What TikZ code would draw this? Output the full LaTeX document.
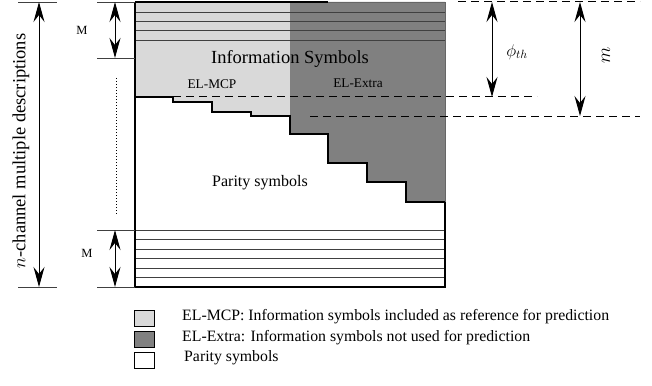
\documentclass[tikz,border=0pt]{standalone}
\usepackage{fix-cm}
\usepackage{fontspec}
\setmainfont{Liberation Serif}
\usetikzlibrary{arrows.meta,positioning,calc}
\definecolor{mcpcolor}{RGB}{217,217,217}
\definecolor{extracolor}{RGB}{128,128,128}
\def\tipspec{Stealth[length=20pt,width=11pt,inset=7pt]}
\tikzset{
  dimarrow/.style   = {{\tipspec}-{\tipspec}, line width=1pt},
  tickline/.style   = {line width=0.7pt, draw=black!75},
  rowline/.style    = {line width=0.8pt, draw=black!75},
  guideline/.style  = {dash pattern=on 8pt off 5pt, line width=1pt},
  stair/.style      = {line width=1.6pt},
  boxlabel/.style   = {font=\fontsize{18.5}{20}\selectfont, inner sep=0pt},
  paritylabel/.style= {font=\fontsize{16}{18}\selectfont, inner sep=0pt},
  smalllabel/.style = {font=\fontsize{13.3}{15}\selectfont, inner sep=0pt},
  mlabel/.style     = {font=\fontsize{12.5}{14}\selectfont, inner sep=0pt},
  legendbox/.style  = {draw, line width=0.8pt, minimum width=20pt,
                       minimum height=16pt, inner sep=0pt},
  legendtext/.style = {font=\fontsize{15.8}{18}\selectfont, anchor=west, inner sep=0pt}
}
\begin{document}
\begin{tikzpicture}[x=1pt,y=-1pt]
\useasboundingbox (0,0) rectangle (652,385);

% --- shaded regions of the block ---
\fill[mcpcolor] (135,2) -- (290,2) -- (290,116) -- (251,116) -- (251,112)
  -- (212,112) -- (212,102) -- (173,102) -- (173,97) -- (135,97) -- cycle;
\fill[extracolor] (290,2) -- (445,2) -- (445,202) -- (406,202) -- (406,182)
  -- (367,182) -- (367,163) -- (328,163) -- (328,134) -- (290,134) -- cycle;

% --- descriptions (rows) ---
\foreach \y in {12,21,30,40}{
  \draw[rowline] (135,\y) -- (445,\y);
}
\foreach \y in {230,239.5,249,258.5,268,277.5}{
  \draw[rowline] (135,\y) -- (445,\y);
}

% --- block outline ---
\draw[line width=0.8pt, draw=black!60] (328,2) -- (445,2) -- (445,202);
\draw[stair] (135,2) -- (328,2);
\draw[line width=1.2pt] (135,2) -- (135,287) -- (445,287) -- (445,202);

% --- boundary of the information symbols ---
\draw[stair] (135,97) -- (173,97) -- (173,102) -- (212,102) -- (212,112)
  -- (251,112) -- (251,116) -- (290,116) -- (290,134) -- (328,134)
  -- (328,163) -- (367,163) -- (367,182) -- (406,182) -- (406,202) -- (445,202);

% --- dashed guides ---
\coordinate (gtop0) at (458,2);   \coordinate (gtop1) at (640,2);
\coordinate (gphi0) at (173,97);  \coordinate (gphi1) at (537,97);
\coordinate (gm0)   at (310,116); \coordinate (gm1)   at (640,116);
\draw[guideline] (gtop0) -- (gtop1);
\draw[guideline] (gphi0) -- (gphi1);
\draw[guideline] (gm0) -- (gm1);

% --- phi_th and m ---
\coordinate (phitop) at (492,2);  \coordinate (phibot) at (492,97);
\coordinate (mtop)   at (580,2);  \coordinate (mbot)   at (580,116);
\draw[dimarrow] (phitop) -- (phibot);
\draw[dimarrow] (mtop) -- (mbot);
\node[font=\fontsize{17}{19}\selectfont] (phi) at (517,52) {$\phi_{th}$};
\node[rotate=90, font=\fontsize{19}{21}\selectfont] (mlab) at (606,55) {$m$};

% --- left side: n descriptions ---
\coordinate (ntop) at (39,2);  \coordinate (nbot) at (39,287);
\draw[tickline] (18,2) -- (57,2);
\draw[tickline] (18,287) -- (57,287);
\draw[dimarrow] (ntop) -- (nbot);
\node[rotate=90, font=\fontsize{18.5}{20}\selectfont, inner sep=0pt]
  (nlab) at (21,151) {$n$-channel multiple descriptions};

% --- M rows, top and bottom ---
\foreach \y in {2,58,230,287}{
  \draw[tickline] (97,\y) -- (135,\y);
}
\coordinate (mt0) at (115,2);   \coordinate (mt1) at (115,58);
\coordinate (mb0) at (115,230); \coordinate (mb1) at (115,287);
\draw[dimarrow] (mt0) -- (mt1);
\draw[dimarrow] (mb0) -- (mb1);
\node[mlabel] (mtoplab) at (82,30) {M};
\node[mlabel] (mbotlab) at (87,253) {M};
\draw[dotted, line width=1pt] (116,78) -- (116,215);

% --- texts in the block ---
\node[boxlabel]    (info)   at (290,59)  {Information Symbols};
\node[smalllabel]  (mcp)    at (212,84)  {EL-MCP};
\node[smalllabel]  (extra)  at (358,83)  {EL-Extra};
\node[paritylabel] (parity) at (260,183) {Parity symbols};

% --- legend ---
\node[legendbox, fill=mcpcolor]   (keymcp)    at (144,318.5) {};
\node[legendbox, fill=extracolor] (keyextra)  at (144,339.5) {};
\node[legendbox, fill=white]      (keyparity) at (144,360)   {};
\node[legendtext] (txtmcp)    at (182,317) {EL-MCP: Information symbols included as reference for prediction};
\node[legendtext] (txtextra)  at (182,338) {EL-Extra: Information symbols not used for prediction};
\node[legendtext] (txtparity) at (184,358) {Parity symbols};

\end{tikzpicture}
\end{document}
